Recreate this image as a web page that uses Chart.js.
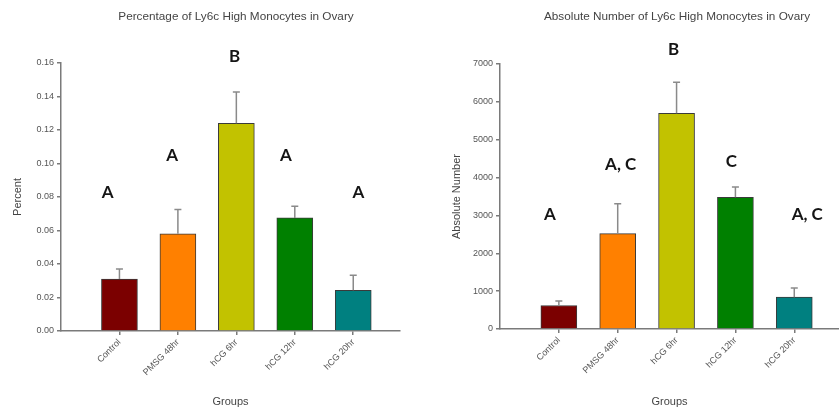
<!DOCTYPE html>
<html>
<head>
<meta charset="utf-8">
<script src="https://cdn.jsdelivr.net/npm/chart.js@4"></script>
<style>
  body { margin: 0; background: #fff; }
  .wrap { display: flex; width: 839px; height: 414px; }
  canvas { display: block; }
</style>
</head>
<body>
<div class="wrap">
  <canvas id="pct-chart" width="420" height="414"></canvas>
  <canvas id="abs-chart" width="419" height="414"></canvas>
</div>
<script>
"use strict";
const groups = ["Control", "PMSG 48hr", "hCG 6hr", "hCG 12hr", "hCG 20hr"];
const barColors = ["#7b0000", "#ff8000", "#c2c200", "#008000", "#008080"];

const percentValues = [0.031, 0.058, 0.124, 0.0675, 0.0243];
const percentErrors = [0.006, 0.0145, 0.0187, 0.007, 0.009];
const percentLetters = ["A", "A", "B", "A", "A"];

const absoluteValues = [620, 2520, 5700, 3480, 840];
const absoluteErrors = [117, 790, 820, 270, 240];
const absoluteLetters = ["A", "A, C", "B", "C", "A, C"];

const axisGrey = "#7a7a7a";
const textFont = "'Liberation Sans', Arial, sans-serif";

// error bars (upper only), significance letters and the chart title
const marksPlugin = {
  id: "marks",
  afterDatasetsDraw(chart, args, opts) {
    const { ctx } = chart;
    const x = chart.scales.x;
    const y = chart.scales.y;
    ctx.save();
    ctx.strokeStyle = "#8a8a8a";
    ctx.lineWidth = 1.5;
    opts.values.forEach((v, i) => {
      const px = x.getPixelForValue(i + 1);
      const base = y.getPixelForValue(v);
      const top = y.getPixelForValue(v + opts.errors[i]);
      ctx.beginPath();
      ctx.moveTo(px, base);
      ctx.lineTo(px, top);
      ctx.moveTo(px - 3.5, top);
      ctx.lineTo(px + 3.5, top);
      ctx.stroke();
    });

    ctx.fillStyle = "#151515";
    ctx.font = "bold 17px Lato, 'Open Sans', sans-serif";
    ctx.textAlign = "center";
    ctx.textBaseline = "middle";
    opts.letters.forEach((t, i) => {
      const px = x.getPixelForValue(i + 1 + opts.letterShift[i]);
      const py = y.getPixelForValue(opts.letterAt[i]);
      ctx.fillText(t, px, py);
    });

    ctx.fillStyle = "#444";
    ctx.font = "11.75px " + textFont;
    ctx.fillText(opts.title, opts.titleX, 17);
    ctx.restore();
  },
};

function makeChart(el, cfg) {
  return new Chart(document.querySelector(el), {
    type: "bar",
    data: {
      datasets: [
        {
          data: groups.map((g, i) => ({ x: i + 1, y: cfg.values[i] })),
          backgroundColor: barColors,
          borderColor: "#3a3a3a",
          borderWidth: 1,
          barThickness: 36,
        },
      ],
    },
    options: {
      responsive: false,
      animation: false,
      layout: { padding: { top: cfg.top, right: cfg.right, left: 0, bottom: 0 } },
      plugins: {
        legend: { display: false },
        tooltip: { enabled: false },
        marks: {
          values: cfg.values,
          errors: cfg.errors,
          letters: cfg.letters,
          letterAt: cfg.letterAt,
          letterShift: cfg.letterShift,
          title: cfg.title,
          titleX: cfg.titleX,
        },
      },
      scales: {
        x: {
          type: "linear",
          offset: false,
          min: 0,
          max: cfg.xMax,
          afterFit: (s) => { s.height = cfg.xHeight; },
          grid: { offset: false, drawOnChartArea: false, tickLength: 4, color: axisGrey, lineWidth: 1.5 },
          border: { color: axisGrey, width: 1.5 },
          ticks: {
            stepSize: 1,
            includeBounds: false,
            autoSkip: false,
            minRotation: 45,
            maxRotation: 45,
            padding: 2,
            color: "#555",
            font: { family: textFont, size: 9 },
            callback: (v) => (Number.isInteger(v) && v >= 1 && v <= groups.length ? groups[v - 1] : null),
          },
          title: {
            display: true,
            text: "Groups",
            color: "#444",
            font: { family: textFont, size: 11 },
            padding: { top: 0, bottom: 5 },
          },
        },
        y: {
          min: 0,
          max: cfg.yMax,
          afterFit: (s) => { s.width = cfg.yWidth; },
          grid: { drawOnChartArea: false, tickLength: 4, color: axisGrey, lineWidth: 1.5 },
          border: { color: axisGrey, width: 1.5 },
          ticks: {
            stepSize: cfg.yStep,
            padding: 3,
            color: "#555",
            font: { family: textFont, size: 9 },
            callback: cfg.yFormat,
          },
          title: {
            display: true,
            text: cfg.yTitle,
            color: "#444",
            font: { family: textFont, size: 11 },
            padding: { top: cfg.yTitlePad, bottom: 0 },
          },
        },
      },
    },
    plugins: [marksPlugin],
  });
}

const pctChart = makeChart("#pct-chart", {
  values: percentValues,
  errors: percentErrors,
  letters: percentLetters,
  letterAt: [0.0824, 0.1045, 0.164, 0.1045, 0.0824],
  letterShift: [-0.2, -0.1, -0.03, -0.15, 0.09],
  title: "Percentage of Ly6c High Monocytes in Ovary",
  titleX: 236,
  top: 63,
  right: 20,
  xMax: 5.8,
  xHeight: 83,
  yMax: 0.16,
  yStep: 0.02,
  yWidth: 61,
  yTitle: "Percent",
  yTitlePad: 11,
  yFormat: (v) => v.toFixed(2),
});

const absChart = makeChart("#abs-chart", {
  values: absoluteValues,
  errors: absoluteErrors,
  letters: absoluteLetters,
  letterAt: [3016, 4340, 7393, 4422, 3016],
  letterShift: [-0.15, 0.05, -0.05, -0.07, 0.22],
  title: "Absolute Number of Ly6c High Monocytes in Ovary",
  titleX: 257,
  top: 64,
  right: 0,
  xMax: 5.76,
  xHeight: 85,
  yMax: 7000,
  yStep: 1000,
  yWidth: 80,
  yTitle: "Absolute Number",
  yTitlePad: 30,
  yFormat: (v) => String(v),
});
</script>
</body>
</html>
